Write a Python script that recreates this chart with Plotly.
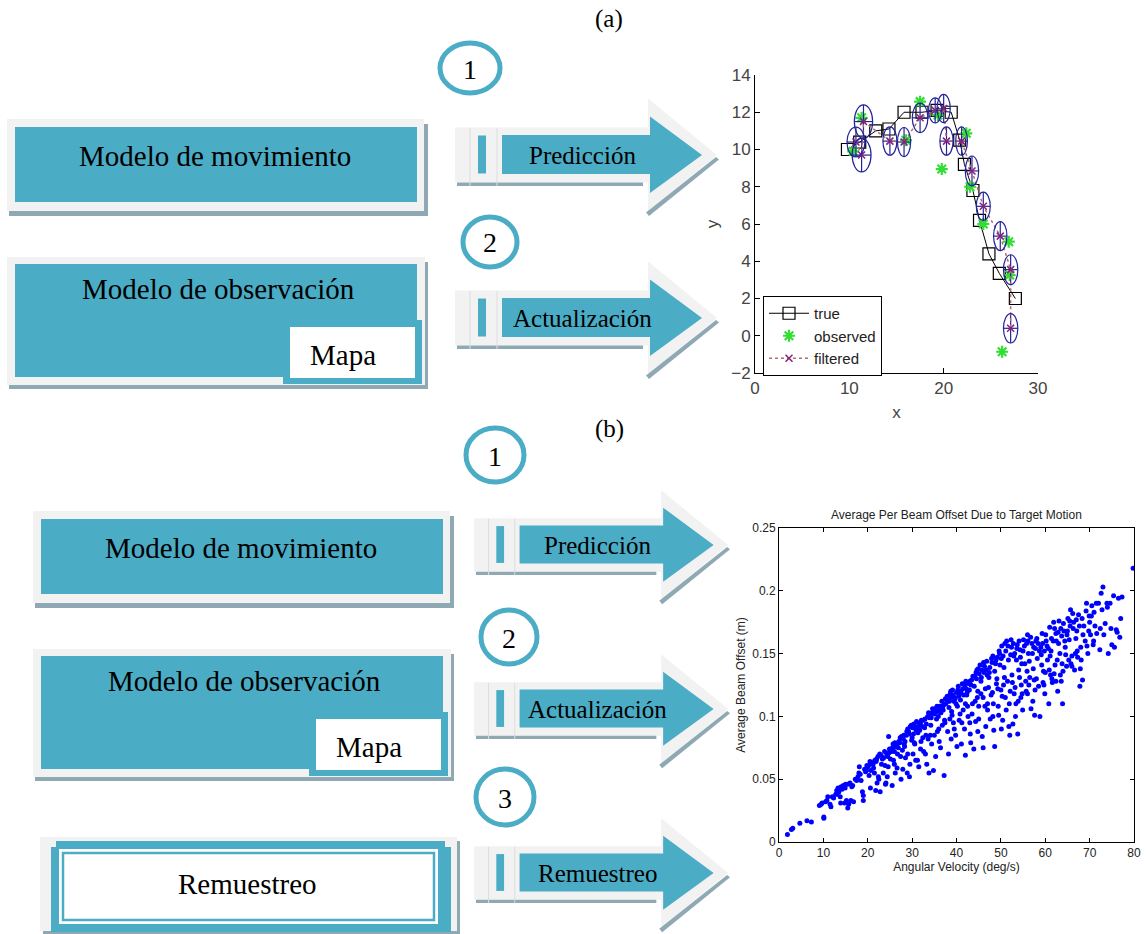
import plotly.graph_objects as go

W, H = 1146, 934

# ---------------- data: chart (a) tracking example ----------------
true_x = [9.8, 11.1, 12.8, 14.2, 15.8, 17.7, 19.3, 20.8, 21.7, 22.2, 23.1, 23.8, 24.8, 25.9, 27.6]
true_y = [10.0, 10.4, 11.0, 11.1, 12.0, 12.0, 12.1, 12.0, 10.5, 9.2, 7.8, 6.2, 4.4, 3.35, 2.0]

obs_x = [10.4, 11.3, 16.0, 17.5, 19.4, 19.8, 22.4, 22.8, 24.2, 26.9, 27.0, 26.2]
obs_y = [9.9, 11.7, 10.5, 12.57, 11.85, 8.95, 10.87, 8.0, 6.0, 5.05, 3.26, -0.86]

filt_x = [10.7, 11.3, 11.5, 14.3, 15.8, 17.5, 19.1, 20.0, 20.3, 21.9, 23.0, 24.2, 26.0, 27.1, 27.1]
filt_y = [10.4, 9.7, 11.5, 10.45, 10.4, 11.7, 12.1, 12.2, 10.45, 10.45, 8.85, 6.95, 5.35, 3.55, 0.4]
ell_a = [0.95, 1.0, 0.97, 0.74, 0.7, 0.83, 0.7, 0.7, 0.7, 0.62, 0.71, 0.74, 0.71, 0.76, 0.76]
ell_b = [0.8, 0.9, 0.9, 0.76, 0.78, 0.79, 0.67, 0.76, 0.76, 0.76, 0.8, 0.76, 0.78, 0.8, 0.79]

a_xticks = [0, 10, 20, 30]
a_yticks = [-2, 0, 2, 4, 6, 8, 10, 12, 14]

# ---------------- data: chart (b) beam offset scatter ----------------
vel = [1.9, 2.8, 3.1, 4.7, 6.3, 7.3, 9.1, 9.7, 10.1, 10.1, 10.5, 11.0, 11.5, 11.7, 12.0, 12.8, 13.0, 13.3,
       13.5, 13.8, 13.9, 14.2, 14.5, 14.8, 15.0, 15.2, 15.5, 15.5, 15.7, 16.0, 16.2, 16.4, 16.8, 17.5, 17.8,
       18.0, 18.1, 18.5, 18.8, 19.0, 19.0, 19.3, 19.5, 19.8, 20.0, 20.3, 20.7, 21.0, 21.2, 21.5, 21.6, 21.8,
       22.0, 22.3, 22.4, 22.5, 22.8, 23.0, 23.3, 23.5, 23.8, 24.0, 24.1, 24.3, 24.6, 24.7, 24.9, 25.2, 25.5,
       25.7, 25.8, 26.0, 26.3, 26.6, 27.0, 27.3, 27.5, 27.8, 28.0, 28.2, 28.5, 28.7, 28.9, 29.0, 29.2, 29.4,
       29.6, 29.9, 30.0, 30.2, 30.4, 30.6, 30.8, 31.0, 31.3, 31.5, 31.7, 31.9, 32.0, 32.3, 32.6, 32.9, 33.1,
       33.3, 33.5, 33.8, 34.0, 34.2, 34.4, 34.6, 34.8, 35.0, 35.3, 35.5, 35.8, 36.0, 36.2, 36.4, 36.7, 37.0,
       37.2, 37.4, 37.6, 37.9, 38.0, 38.2, 38.4, 38.6, 38.9, 39.1, 39.3, 39.6, 39.8, 40.0, 40.2, 40.4, 40.6,
       40.9, 41.1, 41.3, 41.5, 41.8, 42.0, 42.1, 42.3, 42.6, 42.9, 43.1, 43.3, 43.6, 43.9, 44.1, 44.3, 44.6,
       44.8, 45.0, 45.3, 45.5, 45.8, 46.0, 46.2, 46.5, 46.8, 47.0, 47.3, 47.6, 47.9, 48.1, 48.4, 48.6, 48.8,
       49.1, 49.4, 49.7, 50.0, 50.2, 50.4, 50.7, 51.0, 51.3, 51.5, 51.8, 52.0, 52.2, 52.5, 52.8, 53.0, 53.3,
       53.5, 53.8, 54.0, 54.3, 54.6, 54.9, 55.1, 55.4, 55.7, 56.0, 56.2, 56.5, 56.8, 57.0, 57.3, 57.6, 57.9,
       58.2, 58.5, 58.8, 59.0, 59.3, 59.6, 59.9, 60.2, 60.5, 60.8, 61.0, 61.3, 61.6, 61.9, 62.2, 62.5, 62.8,
       63.1, 63.3, 63.6, 63.9, 64.2, 64.5, 64.8, 65.1, 65.4, 65.7, 66.0, 66.3, 66.6, 66.9, 67.2, 67.5, 67.8,
       68.1, 68.4, 68.7, 69.0, 69.3, 69.6, 69.9, 70.2, 70.5, 70.8, 71.2, 71.6, 72.0, 72.3, 72.6, 73.0, 73.2,
       73.5, 73.9, 74.2, 74.6, 75.0, 75.4, 75.6, 76.0, 76.5, 76.8, 77.3, 79.8,
       20.5, 21.3, 22.7, 23.1, 24.5, 25.4, 26.1, 26.9, 27.6, 28.4, 29.3, 30.1, 30.9, 31.6, 32.5, 33.2, 33.9,
       34.5, 35.2, 35.9, 36.5, 37.1, 37.8, 38.3, 38.8, 39.4, 39.9, 40.5, 41.0, 41.6, 42.2, 42.8, 43.4, 44.0,
       44.5, 45.1, 45.7, 46.3, 46.9, 47.5, 48.0, 48.6, 49.2, 49.8, 50.5, 51.1, 51.7, 52.4, 53.1, 53.7, 54.4,
       55.0, 55.8, 56.4, 57.1, 57.8, 58.4, 59.1, 59.8, 60.4, 61.1, 61.8, 62.4, 63.0, 63.7, 64.4, 65.0, 65.6,
       66.4, 67.1, 45.5, 47.2, 49.0, 50.8, 52.6, 54.2, 55.9, 57.5, 59.2, 60.9, 62.7, 64.6, 44.2, 46.0, 48.3,
       50.3, 52.1, 53.9, 55.6, 40.8, 42.5, 38.5, 36.8, 35.0, 33.6, 31.9, 30.5, 29.0, 27.4, 26.0, 39.5, 43.0,
       45.0, 47.0, 49.5, 51.2, 53.4, 56.0, 58.0, 60.0, 62.0, 64.0, 66.0, 68.0, 70.0, 71.0, 68.5,
       9.5, 10.8, 12.3, 13.1, 14.0, 14.9, 16.6, 17.2, 18.3, 19.7, 20.2, 21.9, 23.6, 24.8, 25.6, 26.5, 27.2,
       28.1, 28.8, 29.8, 30.7, 31.4, 32.1, 32.8, 33.7, 34.3, 35.1, 35.6, 36.3, 36.9, 37.5, 38.1, 38.7, 39.2,
       39.7, 40.3, 40.7, 41.4, 41.9, 42.4, 43.0, 43.7, 44.4, 44.9, 45.6, 46.1, 46.7, 47.4, 48.2, 48.9, 49.6,
       50.1, 50.9, 51.6, 52.3, 52.9, 53.6, 54.1, 54.7, 55.3, 56.1, 56.7, 57.4, 58.1, 58.7, 59.4, 60.1, 60.7,
       61.4, 62.1, 62.9, 63.5, 64.1, 64.9, 65.5, 66.2, 67.0, 67.7, 68.3, 69.2, 70.4, 71.5, 72.8, 74.0, 74.8,
       76.2, 77.0,
       42.0, 43.5, 44.7, 46.4, 47.8, 49.3, 50.6, 51.9, 53.2, 54.8, 56.3, 57.7, 59.5, 61.2, 62.4, 63.8, 65.3,
       66.8, 67.9, 69.4, 70.9, 72.4, 41.2, 39.0, 37.3, 35.7, 34.1, 32.4, 30.3, 28.3, 26.7, 25.1, 23.9, 44.8,
       46.6, 48.2, 50.1, 52.7, 54.5, 57.2, 59.7, 61.5, 63.4, 65.8, 67.3, 69.8, 36.1, 38.8, 40.1, 43.2, 33.0,
       31.2, 29.5, 27.9, 26.2, 24.4, 22.1, 20.6]
offset = [0.006, 0.010, 0.011, 0.015, 0.017, 0.016, 0.029, 0.031, 0.019, 0.020, 0.032, 0.036, 0.030, 0.028,
          0.036, 0.038, 0.041, 0.043, 0.040, 0.036, 0.031, 0.042, 0.045, 0.031, 0.046, 0.033, 0.027, 0.046,
          0.030, 0.047, 0.033, 0.044, 0.032, 0.049, 0.052, 0.055, 0.060, 0.049, 0.040, 0.037, 0.033, 0.058,
          0.056, 0.061, 0.060, 0.053, 0.057, 0.063, 0.062, 0.055, 0.065, 0.041, 0.066, 0.068, 0.052, 0.050,
          0.040, 0.069, 0.066, 0.055, 0.072, 0.046, 0.047, 0.070, 0.060, 0.084, 0.074, 0.074, 0.045, 0.078,
          0.065, 0.072, 0.076, 0.059, 0.080, 0.083, 0.050, 0.073, 0.082, 0.078, 0.067, 0.085, 0.055, 0.090,
          0.088, 0.052, 0.092, 0.081, 0.083, 0.070, 0.094, 0.078, 0.065, 0.096, 0.087, 0.060, 0.089, 0.095,
          0.080, 0.092, 0.072, 0.098, 0.085, 0.062, 0.100, 0.055, 0.101, 0.093, 0.078, 0.106, 0.057, 0.102,
          0.068, 0.098, 0.104, 0.090, 0.108, 0.075, 0.112, 0.105, 0.053, 0.095, 0.110, 0.116, 0.088, 0.070,
          0.112, 0.118, 0.104, 0.121, 0.095, 0.115, 0.085, 0.119, 0.108, 0.124, 0.097, 0.113, 0.078, 0.126,
          0.105, 0.090, 0.069, 0.128, 0.117, 0.100, 0.121, 0.086, 0.125, 0.110, 0.074, 0.132, 0.096, 0.137,
          0.120, 0.108, 0.141, 0.128, 0.084, 0.075, 0.135, 0.122, 0.144, 0.110, 0.131, 0.098, 0.146, 0.119,
          0.089, 0.076, 0.142, 0.130, 0.108, 0.150, 0.121, 0.156, 0.097, 0.139, 0.115, 0.160, 0.128, 0.092,
          0.085, 0.149, 0.133, 0.158, 0.118, 0.100, 0.145, 0.086, 0.137, 0.153, 0.125, 0.105, 0.161, 0.142,
          0.120, 0.165, 0.150, 0.131, 0.106, 0.158, 0.138, 0.101, 0.160, 0.146, 0.124, 0.100, 0.155, 0.166,
          0.136, 0.118, 0.160, 0.145, 0.110, 0.171, 0.152, 0.127, 0.175, 0.141, 0.160, 0.120, 0.176, 0.150,
          0.128, 0.110, 0.168, 0.155, 0.140, 0.178, 0.161, 0.185, 0.148, 0.170, 0.137, 0.162, 0.152, 0.181,
          0.124, 0.145, 0.129, 0.172, 0.160, 0.190, 0.150, 0.180, 0.165, 0.188, 0.157, 0.172, 0.166, 0.190,
          0.153, 0.198, 0.203, 0.165, 0.174, 0.190, 0.150, 0.190, 0.157, 0.196, 0.155, 0.169, 0.194, 0.163,
          0.195, 0.218,
          0.064, 0.059, 0.070, 0.062, 0.068, 0.072, 0.079, 0.075, 0.084, 0.080, 0.086, 0.091, 0.089, 0.094,
          0.097, 0.094, 0.099, 0.103, 0.106, 0.100, 0.103, 0.109, 0.113, 0.107, 0.115, 0.112, 0.110, 0.116,
          0.120, 0.117, 0.122, 0.126, 0.129, 0.124, 0.130, 0.134, 0.137, 0.140, 0.133, 0.139, 0.143, 0.136,
          0.147, 0.141, 0.148, 0.152, 0.145, 0.155, 0.150, 0.157, 0.147, 0.152, 0.158, 0.144, 0.150, 0.154,
          0.158, 0.149, 0.152, 0.156, 0.148, 0.160, 0.166, 0.158, 0.164, 0.160, 0.168, 0.172, 0.175, 0.168,
          0.118, 0.123, 0.126, 0.131, 0.127, 0.131, 0.136, 0.129, 0.141, 0.137, 0.145, 0.149, 0.112, 0.115,
          0.110, 0.116, 0.120, 0.112, 0.128, 0.102, 0.108, 0.098, 0.093, 0.085, 0.082, 0.074, 0.079, 0.070,
          0.068, 0.062, 0.090, 0.095, 0.098, 0.105, 0.101, 0.105, 0.110, 0.118, 0.130, 0.135, 0.134, 0.136,
          0.140, 0.155, 0.175, 0.183, 0.165,
          0.030, 0.033, 0.035, 0.038, 0.044, 0.043, 0.045, 0.050, 0.054, 0.057, 0.061, 0.064, 0.067, 0.071,
          0.075, 0.077, 0.079, 0.085, 0.088, 0.093, 0.092, 0.091, 0.097, 0.091, 0.103, 0.099, 0.103, 0.108,
          0.105, 0.108, 0.114, 0.112, 0.120, 0.117, 0.114, 0.121, 0.118, 0.122, 0.125, 0.119, 0.128, 0.132,
          0.135, 0.138, 0.131, 0.143, 0.137, 0.135, 0.148, 0.145, 0.152, 0.146, 0.158, 0.156, 0.161, 0.148,
          0.154, 0.160, 0.142, 0.156, 0.160, 0.163, 0.155, 0.162, 0.152, 0.158, 0.165, 0.154, 0.162, 0.170,
          0.167, 0.170, 0.174, 0.165, 0.176, 0.182, 0.177, 0.172, 0.178, 0.184, 0.180, 0.190, 0.185, 0.187,
          0.170, 0.167, 0.178,
          0.110, 0.102, 0.115, 0.108, 0.117, 0.122, 0.125, 0.110, 0.123, 0.118, 0.125, 0.121, 0.127, 0.133,
          0.128, 0.142, 0.145, 0.150, 0.138, 0.156, 0.160, 0.170, 0.095, 0.101, 0.097, 0.088, 0.085, 0.083,
          0.086, 0.076, 0.070, 0.066, 0.061, 0.088, 0.092, 0.100, 0.090, 0.094, 0.115, 0.112, 0.125, 0.130,
          0.133, 0.142, 0.147, 0.168, 0.080, 0.082, 0.076, 0.079, 0.070, 0.065, 0.062, 0.058, 0.055, 0.052,
          0.047, 0.043]
b_xticks = [0, 10, 20, 30, 40, 50, 60, 70, 80]
b_yticks = [0, 0.05, 0.1, 0.15, 0.2, 0.25]
b_yticklabels = ["0", "0.05", "0.1", "0.15", "0.2", "0.25"]

# ---------------- diagram labels ----------------
box_labels = ["Modelo de movimiento", "Modelo de observación", "Mapa", "Remuestreo"]
step_labels = ["Predicción", "Actualización", "Remuestreo"]
step_numbers = ["1", "2", "3"]
panel_labels = ["(a)", "(b)"]

TEAL = "#4BACC6"
LIGHT = "#F2F2F2"
SHADOW = "#8FA9B4"
SERIF = "Liberation Serif, Times New Roman, serif"
SANS = "Liberation Sans, Arial, sans-serif"

shapes = []
annotations = []


def fx_(x):
    return x / W


def fy_(y):
    return 1 - y / H


def rect(x0, y0, x1, y1, fill, line_color=None, line_width=0):
    shapes.append(dict(type="rect", xref="paper", yref="paper", x0=fx_(x0), x1=fx_(x1),
                       y0=fy_(y1), y1=fy_(y0), fillcolor=fill, layer="above",
                       line=dict(width=line_width, color=line_color or fill)))


def poly(pts, fill):
    path = "M " + " L ".join(f"{fx_(x):.5f},{fy_(y):.5f}" for x, y in pts) + " Z"
    shapes.append(dict(type="path", xref="paper", yref="paper", path=path, fillcolor=fill,
                       line=dict(width=0), layer="above"))


def text(x, y, s, size, family=SERIF, color="black"):
    annotations.append(dict(x=fx_(x), y=fy_(y), xref="paper", yref="paper", text=s, showarrow=False,
                            xanchor="center", yanchor="middle",
                            font=dict(family=family, size=size, color=color)))


def ring(cx, cy, rx, ry, label):
    shapes.append(dict(type="circle", xref="paper", yref="paper", x0=fx_(cx - rx), x1=fx_(cx + rx),
                       y0=fy_(cy + ry), y1=fy_(cy - ry), fillcolor="white", layer="above",
                       line=dict(color=TEAL, width=5)))
    text(cx, cy + 1, label, 28)


def arrow(L, C, s, label):
    def P(dx, dy):
        return (L + dx * s, C + dy * s)
    poly([P(0, -27.5), P(193, -27.5), P(193, -56.5), P(262, 0), P(193, 56.5), P(193, 27.5), P(0, 27.5)], LIGHT)
    poly([P(2, 27.5), P(188, 27.5), P(188, 31), P(2, 31)], SHADOW)
    poly([P(191, 57.5), P(261, 2), P(264, 4.5), P(194, 61)], SHADOW)
    for d in (15, 42):
        shapes.append(dict(type="line", xref="paper", yref="paper", x0=fx_(L + d * s), x1=fx_(L + d * s),
                           y0=fy_(C + 31 * s), y1=fy_(C - 27 * s), layer="above",
                           line=dict(color="#DDDDDD", width=1)))
    poly([P(47, -20), P(195, -20), P(195, -38.5), P(247, 0), P(195, 38), P(195, 19), P(47, 19)], TEAL)
    poly([P(23, -19.5), P(31, -19.5), P(31, 18.5), P(23, 18.5)], TEAL)
    text(L + 127 * s, C, label, 25)


def plain_box(dx, dy, label):
    rect(9 + dx, 124 + dy, 428 + dx, 216 + dy, SHADOW)
    rect(7 + dx, 119 + dy, 424 + dx, 211 + dy, LIGHT)
    rect(15 + dx, 127 + dy, 417 + dx, 202 + dy, TEAL)
    text(215 + dx, 156 + dy, label, 29)


def obs_box(dx, dy, label, maplabel):
    rect(9 + dx, 262 + dy, 428 + dx, 389 + dy, SHADOW)
    rect(7 + dx, 257 + dy, 425 + dx, 385 + dy, LIGHT)
    rect(15 + dx, 264 + dy, 417 + dx, 377 + dy, TEAL)
    rect(283 + dx, 320 + dy, 422 + dx, 384 + dy, TEAL)
    rect(290 + dx, 327 + dy, 415 + dx, 378 + dy, "white")
    text(218 + dx, 289 + dy, label, 29)
    text(343 + dx, 355 + dy, maplabel, 29)


# ---- panel (a) diagram ----
text(609, 19, panel_labels[0], 25)
plain_box(0, 0, box_labels[0])
obs_box(0, 0, box_labels[1], box_labels[2])
ring(470, 68, 30, 25, step_numbers[0])
ring(490, 242, 27, 25, step_numbers[1])
arrow(455, 155, 1.0, step_labels[0])
arrow(455, 318, 1.0, step_labels[1])

# ---- panel (b) diagram ----
text(609, 429, panel_labels[1], 25)
plain_box(26, 392, box_labels[0])
obs_box(26, 392, box_labels[1], box_labels[2])
rect(43, 841, 460, 935, SHADOW)
rect(40, 837, 457, 931, LIGHT)
rect(51, 847, 451, 932, TEAL)
rect(56, 841, 445, 848, TEAL)
rect(59, 849, 438, 924, "white")
rect(63, 853, 434, 920, "white", TEAL, 2.5)
text(247, 884, box_labels[3], 29)
ring(495, 455, 29, 27, step_numbers[0])
ring(509, 637, 28, 27, step_numbers[1])
ring(505, 797, 29, 28, step_numbers[2])
arrow(474, 545, 0.97, step_labels[0])
arrow(474, 709, 0.97, step_labels[1])
arrow(474, 873, 0.97, step_labels[2])

# ---- covariance ellipses for chart (a), in data coordinates ----
NAVY = "#23239A"
for cx, cy, a, b in zip(filt_x, filt_y, ell_a, ell_b):
    shapes.append(dict(type="circle", xref="x", yref="y", x0=cx - a, x1=cx + a, y0=cy - b, y1=cy + b,
                       line=dict(color=NAVY, width=1.2), layer="above"))

text(956.5, 515, "Average Per Beam Offset Due to Target Motion", 12, SANS, "#222222")

fig = go.Figure()

fig.add_trace(go.Scatter(x=true_x, y=true_y, mode="lines+markers", name="true",
                         line=dict(color="black", width=1),
                         marker=dict(symbol="square-open", size=12, color="black", line=dict(width=1.2)),
                         xaxis="x", yaxis="y"))
fig.add_trace(go.Scatter(x=obs_x, y=obs_y, mode="markers", name="observed",
                         marker=dict(symbol="asterisk-open", size=10, color="#33DD33",
                                     line=dict(color="#33DD33", width=2.2)),
                         xaxis="x", yaxis="y"))
fig.add_trace(go.Scatter(x=filt_x, y=filt_y, mode="markers", showlegend=False,
                         marker=dict(size=1, color="rgba(0,0,0,0)"),
                         error_x=dict(type="data", array=ell_a, visible=True, width=0, thickness=1.2, color=NAVY),
                         error_y=dict(type="data", array=ell_b, visible=True, width=0, thickness=1.2, color=NAVY),
                         hoverinfo="skip", xaxis="x", yaxis="y"))
fig.add_trace(go.Scatter(x=filt_x, y=filt_y, mode="lines+markers", name="filtered",
                         line=dict(color="#B07070", width=1.5, dash="dot"),
                         marker=dict(symbol="x-thin-open", size=7, color="#8A1F7A",
                                     line=dict(color="#8A1F7A", width=1.5)),
                         xaxis="x", yaxis="y"))

fig.add_trace(go.Scatter(x=vel, y=offset, mode="markers", showlegend=False,
                         marker=dict(size=5, color="#0000FF"),
                         xaxis="x2", yaxis="y2"))

tickfont_a = dict(family="Liberation Sans Narrow, Arial Narrow, Liberation Sans, Arial", size=17, color="#444444")
tickfont_b = dict(family=SANS, size=12, color="#222222")

fig.update_layout(
    width=W, height=H, margin=dict(l=0, r=0, t=0, b=0, pad=0, autoexpand=False),
    paper_bgcolor="white", plot_bgcolor="rgba(0,0,0,0)",
    shapes=shapes, annotations=annotations,
    showlegend=True,
    legend=dict(x=fx_(763), y=fy_(296), xanchor="left", yanchor="top",
                bgcolor="white", bordercolor="black", borderwidth=1,
                font=dict(family="Liberation Sans, Arial", size=15, color="#222222"),
                tracegroupgap=0, itemwidth=40),
    xaxis=dict(domain=[fx_(755), fx_(1038)], range=[0, 30], tickvals=a_xticks,
               showline=True, linecolor="black", linewidth=1, ticks="inside", ticklen=5,
               tickcolor="black", showgrid=False, zeroline=False, tickfont=tickfont_a,
               title=dict(text="x", font=dict(family=SANS, size=17, color="#444444"), standoff=8),
               anchor="y", automargin=False),
    yaxis=dict(domain=[fy_(373), fy_(75)], range=[-2, 14], tickvals=a_yticks,
               showline=True, linecolor="black", linewidth=1, ticks="inside", ticklen=5,
               tickcolor="black", showgrid=False, zeroline=False, tickfont=tickfont_a,
               title=dict(text="y", font=dict(family=SANS, size=17, color="#444444"), standoff=8),
               anchor="x", automargin=False),
    xaxis2=dict(domain=[fx_(779), fx_(1134)], range=[0, 80], tickvals=b_xticks,
                showline=True, mirror="ticks", linecolor="black", linewidth=1, ticks="inside",
                ticklen=4, tickcolor="black", showgrid=False, zeroline=False, tickfont=tickfont_b,
                title=dict(text="Angular Velocity (deg/s)", font=dict(family=SANS, size=12, color="#222222"),
                           standoff=2),
                anchor="y2", automargin=False),
    yaxis2=dict(domain=[fy_(842), fy_(528)], range=[0, 0.25], tickvals=b_yticks, ticktext=b_yticklabels,
                showline=True, mirror="ticks", linecolor="black", linewidth=1, ticks="inside",
                ticklen=4, tickcolor="black", showgrid=False, zeroline=False, tickfont=tickfont_b,
                title=dict(text="Average Beam Offset (m)", font=dict(family=SANS, size=12, color="#222222"),
                           standoff=4),
                anchor="x2", automargin=False),
)

fig.write_html("out.html", config={"displayModeBar": False},
               post_script="document.body.style.margin='0';")
